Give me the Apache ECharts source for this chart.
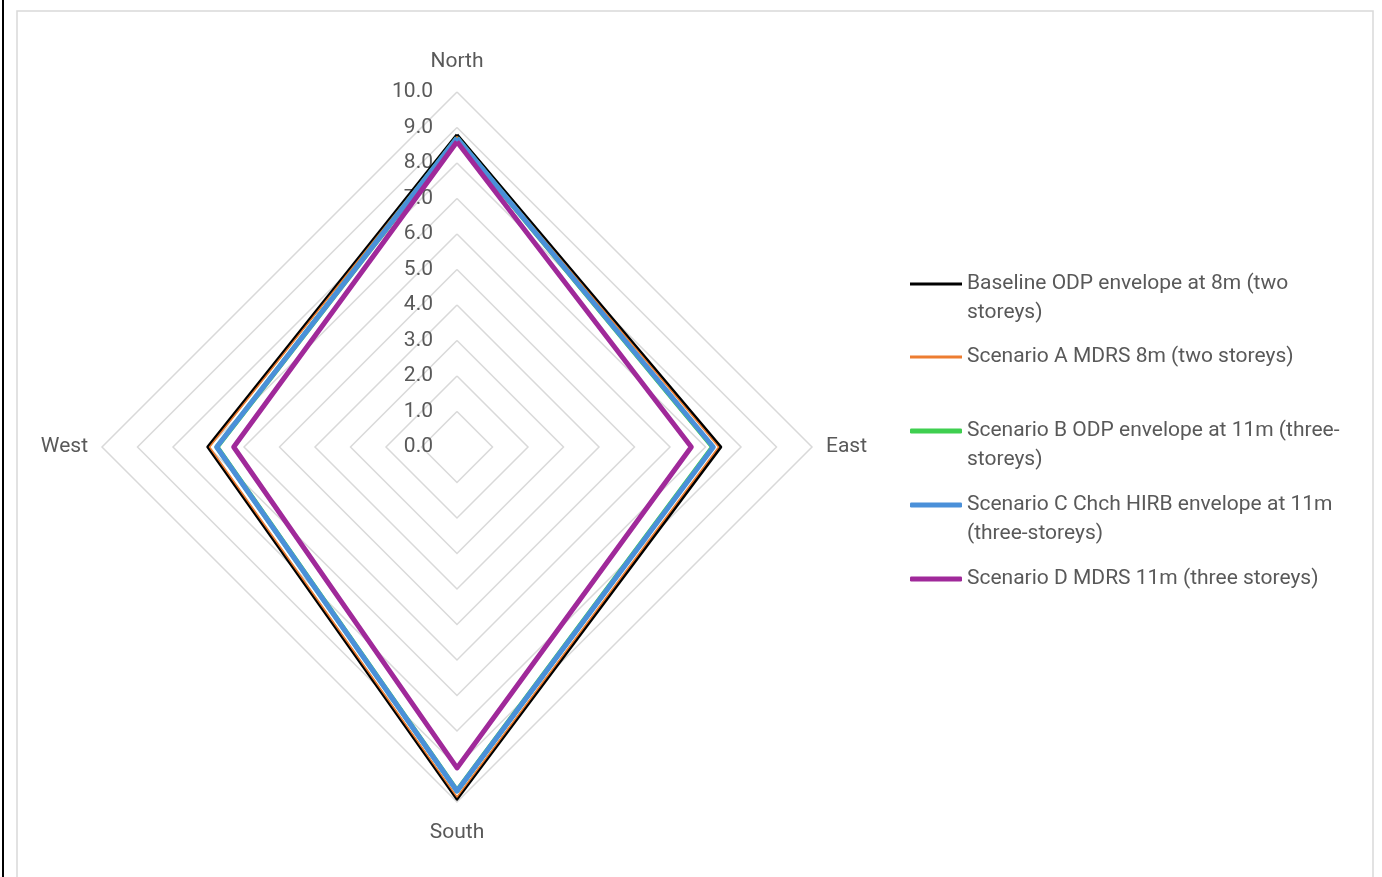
<!DOCTYPE html>
<html>
<head>
<meta charset="utf-8">
<title>Radar</title>
<script src="https://cdn.jsdelivr.net/npm/echarts@6/dist/echarts.min.js"></script>
<style>
  html, body { margin: 0; padding: 0; background: #fff; }
  #chart { width: 1382px; height: 877px; }
</style>
</head>
<body>
<div id="chart"></div>
<script>
// directions in clockwise order as seen in the picture
const directions = ['North', 'East', 'South', 'West']
const tickMax = 10

const seriesNames = [
  'Baseline ODP envelope at 8m (two\nstoreys)',
  'Scenario A MDRS 8m (two storeys)',
  'Scenario B ODP envelope at 11m (three-\nstoreys)',
  'Scenario C Chch HIRB envelope at 11m\n(three-storeys)',
  'Scenario D MDRS 11m (three storeys)'
]
const seriesColors = ['#000000', '#ed7d31', '#3fcf50', '#4a90d9', '#a0299a']
const lineWidths = [3, 1.5, 5, 5, 5]

// values per direction: North, East, South, West
const baseline = [8.8, 7.43, 9.92, 7.02]
const scenarioA = [8.75, 7.37, 9.86, 6.97]
const scenarioB = [8.7, 7.2, 9.68, 6.76]
const scenarioC = [8.7, 7.22, 9.69, 6.77]
const scenarioD = [8.6, 6.6, 9.04, 6.29]

const allValues = [baseline, scenarioA, scenarioB, scenarioC, scenarioD]

// echarts places indicators counter-clockwise, so feed N, W, S, E
const order = [0, 3, 2, 1]
const textColor = '#595959'
const font = 'Roboto, "Noto Sans", sans-serif'
const fontSize = 21

const chart = echarts.init(document.getElementById('chart'))

// legend rows: y of the line icon, and number of text lines
const legendRows = [
  { y: 284, lines: 2 },
  { y: 357, lines: 1 },
  { y: 431, lines: 2 },
  { y: 505, lines: 2 },
  { y: 579, lines: 1 }
]
const lineH = 29

const legends = seriesNames.map((name, i) => {
  const row = legendRows[i]
  // an empty line on top keeps the first text line level with the icon
  const boxLines = row.lines * 2 - 1
  return {
    left: 910,
    top: row.y - boxLines * lineH / 2,
    padding: 0,
    orient: 'vertical',
    data: [name],
    formatter: n => (row.lines > 1 ? '\n' + n : n),
    icon: i < 2 ? 'rect' : 'roundRect',
    itemWidth: 52,
    itemHeight: i < 2 ? 3 : 5,
    itemGap: 0,
    selectedMode: false,
    textStyle: {
      color: textColor,
      fontSize: fontSize,
      fontFamily: font,
      lineHeight: lineH
    }
  }
})

chart.setOption({
  animation: false,
  backgroundColor: '#fff',
  graphic: [
    { type: 'rect', shape: { x: 2, y: -2, width: 2, height: 882 }, style: { fill: '#000' } },
    { type: 'rect', shape: { x: 17, y: 11, width: 1356, height: 880 }, style: { fill: 'none', stroke: '#d9d9d9', lineWidth: 1.5 } }
  ],
  legend: legends,
  radar: {
    center: [457, 447],
    radius: 355,
    startAngle: 90,
    shape: 'polygon',
    splitNumber: 10,
    axisName: {
      color: textColor,
      fontSize: fontSize,
      fontFamily: font
    },
    nameGap: 14,
    indicator: order.map((d, k) => ({
      name: directions[d],
      min: 0,
      max: tickMax,
      nameGap: d % 2 === 0 ? 20 : 14,
      axisLabel: { show: k === 0 }
    })),
    axisLine: { show: false },
    axisTick: { show: false },
    axisLabel: {
      show: false,
      color: textColor,
      fontSize: fontSize,
      fontFamily: font,
      margin: 24,
      formatter: v => v.toFixed(1)
    },
    splitLine: { lineStyle: { color: '#d9d9d9', width: 1.5 } },
    splitArea: { show: false }
  },
  series: allValues.map((vals, i) => ({
    type: 'radar',
    symbol: 'none',
    itemStyle: { color: seriesColors[i] },
    lineStyle: { color: seriesColors[i], width: lineWidths[i] },
    data: [{ name: seriesNames[i], value: order.map(d => vals[d]) }]
  }))
})
</script>
</body>
</html>
